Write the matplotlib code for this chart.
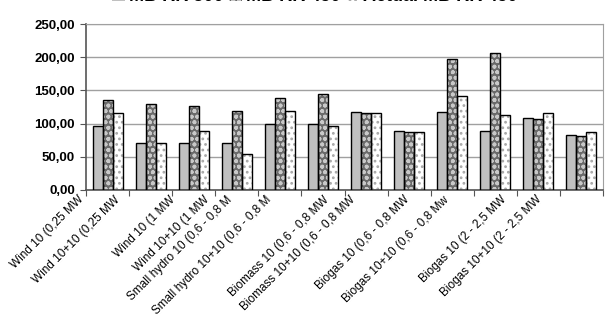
import matplotlib
matplotlib.use("Agg")
import matplotlib.pyplot as plt
import matplotlib.transforms as mtransforms
import numpy as np

plt.rcParams['font.family'] = ['Liberation Sans', 'DejaVu Sans']
plt.rcParams['hatch.linewidth'] = 1.2

labels = ["Wind 10 (0,25 MW", "Wind 10+10 (0,25 MW", "Wind 10 (1 MW", "Wind 10+10 (1 MW",
          "Small hydro 10 (0,6 - 0,8 M", "Small hydro 10+10 (0,6 - 0,8 M",
          "Biomass 10 (0,6 - 0,8 MW", "Biomass 10+10 (0,6 - 0,8 MW",
          "Biogas 10 (0,6 - 0,8 MW", "Biogas 10+10 (0,6 - 0,8 Mw",
          "Biogas 10 (2 - 2,5 MW", "Biogas 10+10 (2 - 2,5 MW"]
series_names = ["MB RR 300", "MB RR 450", "Actual MB RR 450"]
mb_300 = [96.2, 70.6, 70.6, 70.6, 99.2, 99.2, 117.3, 88.6, 117.3, 88.6, 108.3, 82.1]
mb_450 = [136.2, 129.7, 126.2, 119.2, 138.8, 145.3, 115.8, 87.1, 197.4, 205.9, 107.3, 80.6]
actual_450 = [116.7, 70.6, 88.6, 53.6, 119.2, 96.2, 115.8, 87.1, 141.5, 113.3, 115.8, 87.1]
yticks = [0, 50, 100, 150, 200, 250]

# where the rotated labels end (in category units), as Excel placed them
label_x = [-0.59, 0.24, 1.52, 2.33, 2.84, 3.77, 5.1, 5.72, 6.97, 7.88, 9.22, 10.03]

fig = plt.figure(figsize=(6.09, 3.14), dpi=100)
ax = fig.add_axes([0.1412, 0.395, 0.849, 0.5284])

x = np.arange(len(labels))
w = 0.232
styles = [
    dict(face='#c0c0c0', hatch=None, hcol='#c0c0c0'),
    dict(face='#6a6a6a', hatch='ooo', hcol='#c8c8c8'),
    dict(face='white', hatch='...', hcol='#a8a8a8'),
]
handles = []
for i, (vals, st) in enumerate(zip([mb_300, mb_450, actual_450], styles)):
    pos = x + (i - 1) * w
    b = ax.bar(pos, vals, w, color=st['face'], hatch=st['hatch'],
               edgecolor=st['hcol'], linewidth=0, zorder=2)
    ax.bar(pos, vals, w, fill=False, edgecolor='black', linewidth=1.0, zorder=3)
    handles.append(b)

ax.set_xlim(-0.5, len(labels) - 0.5)
ax.set_ylim(0, 250)
ax.set_yticks(yticks)
ax.set_yticklabels([f"{v:.2f}".replace('.', ',') for v in yticks],
                   fontsize=9.5, fontweight='bold')
ax.yaxis.grid(True, color='#a0a0a0', linewidth=1.0, zorder=0)
ax.set_axisbelow(True)

ax.set_xticks(np.arange(len(labels) + 1) - 0.5)
ax.set_xticklabels([])
ax.tick_params(axis='x', length=4, color='#555555', direction='out')
ax.tick_params(axis='y', length=4, color='#555555', direction='out', pad=4)

for s in ['top', 'right']:
    ax.spines[s].set_color('#a0a0a0')
for s in ['left', 'bottom']:
    ax.spines[s].set_color('#555555')
    ax.spines[s].set_linewidth(1.2)

trans = mtransforms.blended_transform_factory(ax.transData, ax.transAxes)
off = mtransforms.offset_copy(trans, fig=fig, x=0, y=-8, units='dots')
for lx, lab in zip(label_x, labels):
    ax.text(lx, 0, lab, transform=off, rotation=45, rotation_mode='anchor',
            ha='right', va='center', fontsize=8.5)

# legend sits mostly above the top edge, as in the source image
fig.legend(handles, series_names, loc='lower center', bbox_to_anchor=(0.517, 0.983),
           ncol=3, frameon=False, prop={'weight': 'bold', 'size': 13},
           borderpad=0, borderaxespad=0,
           handlelength=0.7, handleheight=0.7, columnspacing=0.3, handletextpad=0.25)

fig.savefig('out.png', dpi=100)
